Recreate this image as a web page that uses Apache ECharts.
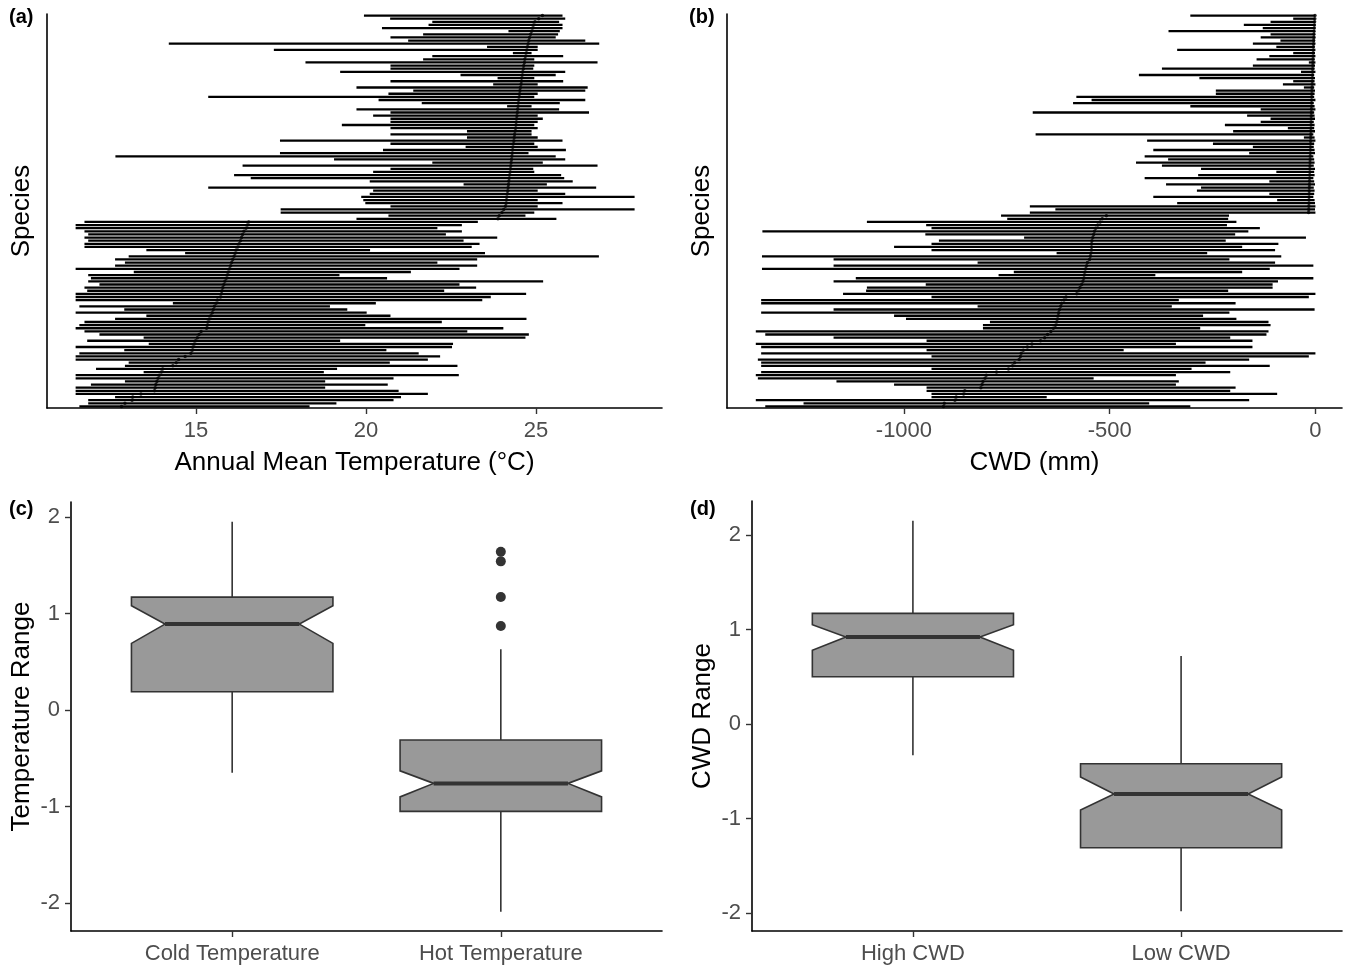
<!DOCTYPE html>
<html><head><meta charset="utf-8">
<script src="https://cdn.jsdelivr.net/npm/echarts@6/dist/echarts.min.js"></script>
<style>html,body{margin:0;padding:0;background:#fff}#c{width:1346px;height:965px}</style>
</head><body><div id="c"></div>
<script>
// ---------- Panel (a): Annual mean temperature ranges, species top -> bottom ----------
const tempLo = [19.94,20.71,21.95,21.84,20.47,24.19,21.68,20.72,21.24,14.2,
23.56,17.29,24.32,21.95,21.68,18.22,20.72,20.72,19.24,22.78,
23.87,20.72,23.74,19.72,21.39,20.66,15.36,20.37,21.64,24.15,
19.72,20.72,20.21,20.72,20.72,19.29,20.72,22.97,20.72,22.97,
17.47,20.72,22.93,20.5,17.47,12.63,19.06,21.95,16.37,20.72,
20.21,16.12,16.61,20.11,22.87,15.36,20.21,20.11,19.86,19.92,
19.98,20.72,17.49,17.49,20.66,19.72,
11.72,11.46,11.46,11.72,11.83,11.72,11.83,11.72,11.72,13.54,
14.68,13.02,12.62,12.91,12.62,11.46,13.17,11.83,11.91,11.83,
12.16,11.72,11.80,11.46,11.46,11.46,14.32,11.57,12.89,11.46,
13.54,12.62,11.72,11.57,11.46,11.72,12.16,13.46,11.80,13.61,
11.46,12.89,11.57,11.46,11.46,13.02,12.91,12.06,13.46,11.46,
11.46,12.91,11.91,11.46,11.46,11.46,12.62,11.83,11.83,11.57];
const tempHi = [25.78,25.86,25.68,25.78,25.78,25.70,25.65,25.58,26.45,26.86,
25.05,25.05,24.87,25.80,24.95,26.81,24.95,24.92,25.86,25.58,
24.95,25.80,25.05,26.52,26.45,25.05,24.95,26.45,25.70,24.87,
25.68,26.56,25.05,25.20,25.05,24.95,25.05,24.87,24.87,25.05,
25.78,24.95,25.05,25.88,24.78,25.58,25.86,25.20,26.81,24.92,
24.95,25.74,25.83,26.08,25.32,26.77,25.05,25.86,27.90,25.05,
25.78,25.05,27.90,24.95,24.69,25.60,
23.29,22.82,22.10,22.82,22.35,23.86,22.87,23.34,23.11,20.12,
23.50,26.85,23.27,22.10,23.27,22.75,21.32,19.22,20.62,25.21,
22.75,23.24,22.30,24.71,23.67,23.42,20.29,18.94,19.45,20.02,
20.72,24.72,22.23,19.98,24.04,22.98,24.79,24.69,19.24,22.56,
22.53,20.60,21.55,22.18,21.82,20.70,22.69,19.15,18.76,22.73,
20.81,18.80,20.64,18.80,20.96,21.82,21.03,20.81,19.13,18.34];
const tempMean = [25.19,25.08,24.97,24.93,24.90,24.87,24.84,24.81,24.79,24.77,
24.75,24.73,24.71,24.69,24.67,24.66,24.64,24.63,24.61,24.60,
24.58,24.57,24.56,24.54,24.53,24.52,24.51,24.49,24.48,24.47,
24.46,24.45,24.44,24.43,24.42,24.41,24.40,24.38,24.37,24.36,
24.35,24.34,24.32,24.31,24.30,24.29,24.28,24.27,24.26,24.25,
24.24,24.22,24.21,24.20,24.19,24.18,24.17,24.16,24.14,24.13,
24.12,24.10,24.05,24.00,23.92,23.88,
16.55,16.51,16.47,16.41,16.37,16.34,16.31,16.27,16.23,16.18,
16.15,16.12,16.08,16.05,16.02,15.99,15.95,15.92,15.89,15.85,
15.82,15.79,15.77,15.75,15.72,15.63,15.59,15.54,15.51,15.48,
15.44,15.39,15.35,15.33,15.31,15.15,15.09,15.04,14.99,14.95,
14.91,14.89,14.85,14.68,14.49,14.42,14.32,14.02,13.98,13.92,
13.88,13.85,13.82,13.80,13.78,13.38,13.14,13.12,12.91,12.81];
const tempTicks = [15, 20, 25];

// ---------- Panel (b): CWD ranges, species top -> bottom ----------
const cwdLo = [-304,-54,-109,-174,-128,-357,-109,-133,-85,-152,
-95,-336,-54,-112,-143,-16,-152,-373,-35,-429,
-282,-54,-79,-28,-242,-242,-581,-544,-589,-304,
-133,-687,-166,-109,-133,-220,-67,-200,-680,-28,
-409,-249,-152,-394,-161,-415,-358,-436,-373,-278,
-95,-285,-415,-112,-363,-278,-288,-112,-394,-93,
-336,-694,-632,-694,
-764,-749,-1090,-946,-933,-1344,-948,-708,-915,-933,
-1024,-933,-629,-1345,-1171,-821,-1171,-1345,-733,-770,
-1117,-1171,-947,-1090,-1092,-1148,-933,-1347,-1347,-821,
-1171,-1347,-1024,-995,-791,-808,-808,-1360,-1337,-1171,
-945,-1360,-1347,-945,-1347,-933,-1355,-1347,-1347,-933,
-1347,-1360,-1355,-1164,-1024,-945,-945,-933,-933,-1360,
-1244,-1337];
const cwdHi = [0,0,0,0,0,-1,-1,0,-1,0,
-2,0,-1,0,-2,0,-1,-2,0,-3,
-1,-2,0,-3,-1,-2,-3,0,-4,-2,
0,-3,-2,-1,-4,-2,-3,-1,-5,-2,
0,-3,-4,-2,-1,-5,-3,-2,-4,-1,
-3,-2,-5,-3,-1,-4,-2,-3,-5,-2,
-1,0,-1,0,
-210,-212,-192,-215,-135,-163,-195,-23,-218,-90,
-178,-98,-263,-83,-209,-98,-5,-111,-178,-389,
-5,-91,-104,-104,-212,0,-16,-332,-194,-349,
-2,-209,-273,-192,-114,-109,-280,-114,-119,-207,
-153,-339,-153,-466,0,-16,-161,-267,-111,-301,
-207,-339,-539,-332,-339,-194,-207,-93,-653,-161,
-404,-304];
const cwdMean = [-1,-1.5,-2,-2.5,-3,-3.3,-3.6,-4,-4.3,-4.6,
-5,-5.2,-5.5,-5.8,-6,-6.3,-6.5,-6.8,-7,-7.2,
-7.5,-7.7,-8,-8.2,-8.5,-8.7,-9,-9.2,-9.4,-9.6,
-9.8,-10,-10.2,-10.4,-10.6,-10.8,-11,-11.2,-11.4,-11.6,
-11.8,-12,-12.2,-12.4,-12.6,-12.8,-13,-13.2,-13.4,-13.6,
-13.8,-14,-14.2,-14.4,-14.6,-14.8,-15,-15.2,-15.4,-15.6,
-15.8,-16,-16.3,-16.6,
-508,-518,-523,-529,-534,-537,-539,-541,-543,-544,
-544,-544,-546,-547,-549,-554,-556,-558,-560,-562,
-563,-565,-568,-572,-575,-580,-606,-611,-617,-619,
-622,-624,-625,-627,-629,-632,-637,-643,-651,-658,
-668,-689,-700,-710,-715,-717,-720,-731,-736,-746,
-775,-800,-803,-808,-810,-813,-852,-855,-873,-876,
-902,-904];
const cwdTicks = [-1000, -500, 0];

// ---------- Panel (c): temperature range boxplots ----------
const tempCats = ['Cold Temperature', 'Hot Temperature'];
const tempWhLow = [-0.65, -2.09];
const tempQ1 = [0.19, -1.05];
const tempNotchLo = [0.69, -0.90];
const tempMed = [0.89, -0.76];
const tempNotchHi = [1.08, -0.63];
const tempQ3 = [1.17, -0.31];
const tempWhHigh = [1.95, 0.63];
const tempOutliers = [1.64, 1.54, 1.17, 0.87];
const tempRangeTicks = [-2, -1, 0, 1, 2];

// ---------- Panel (d): CWD range boxplots ----------
const cwdCats = ['High CWD', 'Low CWD'];
const cwdWhLow = [-0.33, -1.98];
const cwdQ1 = [0.50, -1.31];
const cwdNotchLo = [0.78, -0.91];
const cwdMed = [0.92, -0.74];
const cwdNotchHi = [1.05, -0.56];
const cwdQ3 = [1.17, -0.42];
const cwdWhHigh = [2.15, 0.72];
const cwdRangeTicks = [-2, -1, 0, 1, 2];

// ---------- rendering ----------
const FONT = 'Liberation Sans, Arial, Helvetica, sans-serif';
const chart = echarts.init(document.getElementById('c'), null, {renderer: 'canvas'});

function rangeItem(params, api) {
  const y = api.value(2);
  const p1 = api.coord([api.value(0), y]);
  const p2 = api.coord([api.value(1), y]);
  return {type: 'line', shape: {x1: p1[0], y1: p1[1], x2: p2[0], y2: p2[1]},
          style: {stroke: '#000', lineWidth: 2.3}};
}
function boxItem(params, api) {
  const c = api.value(0);
  const lo = api.value(1), q1 = api.value(2), nlo = api.value(3), med = api.value(4),
        nhi = api.value(5), q3 = api.value(6), hi = api.value(7);
  const hw = 0.375, nw = 0.25;
  const P = (dx, v) => api.coord([c + dx, v]);
  const pts = [P(-hw, q3), P(hw, q3), P(hw, nhi), P(nw, med), P(hw, nlo), P(hw, q1),
               P(-hw, q1), P(-hw, nlo), P(-nw, med), P(-hw, nhi)];
  const top = P(0, hi), q3p = P(0, q3), q1p = P(0, q1), bot = P(0, lo);
  const ml = P(-nw, med), mr = P(nw, med);
  const st = {stroke: '#333333', lineWidth: 1.6};
  return {type: 'group', children: [
    {type: 'line', shape: {x1: top[0], y1: top[1], x2: q3p[0], y2: q3p[1]}, style: st},
    {type: 'line', shape: {x1: q1p[0], y1: q1p[1], x2: bot[0], y2: bot[1]}, style: st},
    {type: 'polygon', shape: {points: pts}, style: {fill: '#999999', stroke: '#333333', lineWidth: 1.6}},
    {type: 'line', shape: {x1: ml[0], y1: ml[1], x2: mr[0], y2: mr[1]}, style: {stroke: '#333333', lineWidth: 4}}
  ]};
}

function xValAxis(grid, min, max, ticks, name, fmt) {
  return {type: 'value', gridIndex: grid, min: min, max: max,
    axisLine: {show: true, onZero: false, lineStyle: {color: '#000', width: 1.6}},
    axisTick: {show: true, customValues: ticks, length: 6, lineStyle: {color: '#333', width: 1.4}},
    axisLabel: {show: true, customValues: ticks, color: '#4D4D4D', fontSize: 22, fontFamily: FONT, margin: 12,
                formatter: fmt || (v => String(v))},
    splitLine: {show: false},
    name: name, nameLocation: 'middle', nameGap: 42,
    nameTextStyle: {color: '#000', fontSize: 26, fontFamily: FONT}};
}
function yRangeAxis(grid, n) {
  return {type: 'value', gridIndex: grid, min: 0.5, max: n + 0.5, inverse: true,
     axisLine: {show: true, onZero: false, lineStyle: {color: '#000', width: 1.6}}, axisTick: {show: false},
     axisLabel: {show: false}, splitLine: {show: false},
     name: 'Species', nameLocation: 'middle', nameGap: 12, nameTextStyle: {color: '#000', fontSize: 26, fontFamily: FONT}};
}
function yBoxAxis(grid, min, max, ticks, name) {
  return {type: 'value', gridIndex: grid, min: min, max: max,
     axisLine: {show: true, onZero: false, lineStyle: {color: '#000', width: 1.6}},
     axisTick: {show: true, customValues: ticks, length: 6, lineStyle: {color: '#333', width: 1.4}},
     axisLabel: {show: true, customValues: ticks, color: '#4D4D4D', fontSize: 22, fontFamily: FONT, margin: 11},
     splitLine: {show: false},
     name: name, nameLocation: 'middle', nameGap: 36, nameTextStyle: {color: '#000', fontSize: 26, fontFamily: FONT}};
}

const option = {
  animation: false,
  backgroundColor: '#fff',
  grid: [
    {left: 47, top: 14, width: 615, height: 394},
    {left: 727, top: 14, width: 615, height: 394},
    {left: 71, top: 502, width: 591, height: 430},
    {left: 752, top: 501, width: 590, height: 431}
  ],
  xAxis: [
    xValAxis(0, 10.618, 28.706, tempTicks, 'Annual Mean Temperature (°C)'),
    xValAxis(1, -1430, 64.6, cwdTicks, 'CWD (mm)'),
    xValAxis(2, 0.4, 2.6, [1, 2], '', v => tempCats[Math.round(v) - 1]),
    xValAxis(3, 0.4, 2.6, [1, 2], '', v => cwdCats[Math.round(v) - 1])
  ],
  yAxis: [
    yRangeAxis(0, tempLo.length),
    yRangeAxis(1, cwdLo.length),
    yBoxAxis(2, -2.289, 2.155, tempRangeTicks, 'Temperature Range'),
    yBoxAxis(3, -2.19, 2.359, cwdRangeTicks, 'CWD Range')
  ],
  series: [
    {type: 'custom', xAxisIndex: 0, yAxisIndex: 0, silent: true, renderItem: rangeItem,
     encode: {x: [0, 1], y: 2}, data: tempLo.map((lo, i) => [lo, tempHi[i], i + 1])},
    {type: 'scatter', xAxisIndex: 0, yAxisIndex: 0, silent: true, symbolSize: 3.5,
     itemStyle: {color: '#000'}, data: tempMean.map((m, i) => [m, i + 1])},
    {type: 'custom', xAxisIndex: 1, yAxisIndex: 1, silent: true, renderItem: rangeItem,
     encode: {x: [0, 1], y: 2}, data: cwdLo.map((lo, i) => [lo, cwdHi[i], i + 1])},
    {type: 'scatter', xAxisIndex: 1, yAxisIndex: 1, silent: true, symbolSize: 3.5,
     itemStyle: {color: '#000'}, data: cwdMean.map((m, i) => [m, i + 1])},
    {type: 'custom', xAxisIndex: 2, yAxisIndex: 2, silent: true, renderItem: boxItem,
     encode: {x: 0, y: [1, 7]},
     data: tempCats.map((c, i) => [i + 1, tempWhLow[i], tempQ1[i], tempNotchLo[i], tempMed[i], tempNotchHi[i], tempQ3[i], tempWhHigh[i]])},
    {type: 'scatter', xAxisIndex: 2, yAxisIndex: 2, silent: true, symbolSize: 10,
     itemStyle: {color: '#333333', opacity: 1}, data: tempOutliers.map(v => [2, v])},
    {type: 'custom', xAxisIndex: 3, yAxisIndex: 3, silent: true, renderItem: boxItem,
     encode: {x: 0, y: [1, 7]},
     data: cwdCats.map((c, i) => [i + 1, cwdWhLow[i], cwdQ1[i], cwdNotchLo[i], cwdMed[i], cwdNotchHi[i], cwdQ3[i], cwdWhHigh[i]])}
  ],
  graphic: [
    {type: 'text', left: 9, top: 7, style: {text: '(a)', font: 'bold 20px ' + FONT, fill: '#000'}},
    {type: 'text', left: 689, top: 7, style: {text: '(b)', font: 'bold 20px ' + FONT, fill: '#000'}},
    {type: 'text', left: 9, top: 499, style: {text: '(c)', font: 'bold 20px ' + FONT, fill: '#000'}},
    {type: 'text', left: 690, top: 499, style: {text: '(d)', font: 'bold 20px ' + FONT, fill: '#000'}}
  ]
};
chart.setOption(option);
</script>
</body></html>
